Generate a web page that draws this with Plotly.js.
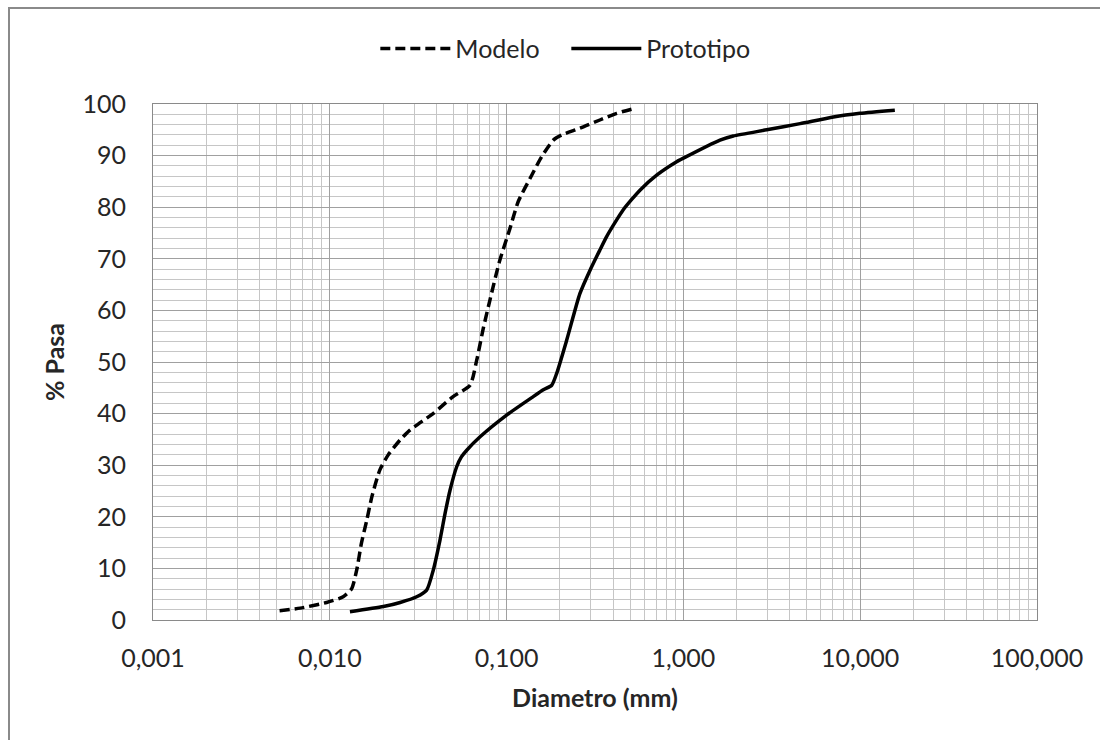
<!DOCTYPE html>
<html>
<head>
<meta charset="utf-8">
<script src="https://cdn.plot.ly/plotly-3.0.1.min.js"></script>
<style>
  html, body { margin: 0; padding: 0; background: #fff; overflow: hidden; }
  #wrap { position: relative; width: 1100px; height: 740px; }
  #chart { width: 1100px; height: 740px; }
  #frame { position: absolute; left: 8px; top: 7px; width: 1100px; height: 760px;
           border: 2px solid #8a8a8a; pointer-events: none; box-sizing: border-box; }
</style>
</head>
<body>
<div id="wrap">
  <div id="chart"></div>
  <div id="frame"></div>
</div>
<script>
// Data
const modeloX = [0.0052, 0.0068, 0.0096, 0.0119, 0.0133, 0.0142, 0.0151, 0.0162, 0.0173, 0.0192,
                 0.0214, 0.0250, 0.0284, 0.0384, 0.0498, 0.0621, 0.0678, 0.0738, 0.0805, 0.0910,
                 0.1045, 0.1164, 0.1387, 0.1580, 0.1838, 0.2050, 0.2600, 0.3370, 0.4200, 0.5100];
const modeloY = [1.8, 2.3, 3.4, 4.5, 6.1, 9.7, 14.9, 19.4, 23.9, 29.1,
                 32.0, 34.9, 36.8, 40.0, 43.3, 45.5, 50.4, 56.5, 62.0, 69.4,
                 75.9, 81.1, 86.2, 89.8, 93.0, 94.0, 95.3, 96.9, 98.2, 99.0];

const protoX = [0.0130, 0.0201, 0.0250, 0.0310, 0.0353, 0.0385, 0.0420, 0.0449, 0.0479, 0.0522,
                0.0555, 0.0595, 0.0708, 0.1000, 0.1416, 0.1613, 0.1800, 0.1920, 0.2190, 0.2600,
                0.2965, 0.3370, 0.3680, 0.4100, 0.4570, 0.5100, 0.5680, 0.7060, 0.9160, 1.0000,
                1.6100, 1.9150, 2.9600, 4.5700, 7.0500, 9.9700, 15.700];
const protoY = [1.6, 2.6, 3.4, 4.5, 5.8, 9.7, 15.5, 20.7, 25.2, 29.7,
                31.6, 32.9, 35.5, 39.7, 43.3, 44.6, 45.5, 47.8, 54.3, 63.3,
                67.8, 71.7, 74.3, 77.0, 79.5, 81.5, 83.3, 86.2, 88.8, 89.5,
                93.0, 93.8, 95.0, 96.2, 97.5, 98.2, 98.8];

const xTickVals = [0.001, 0.01, 0.1, 1, 10, 100];
const xTickText = ['0,001', '0,010', '0,100', '1,000', '10,000', '100,000'];
const seriesNames = ['Modelo', 'Prototipo'];

// minor gridline positions of the log axis (2..9 in each decade)
const xMinorVals = [];
for (let d = -3; d < 2; d++) {
  for (let k = 2; k <= 9; k++) xMinorVals.push(k * Math.pow(10, d));
}

const FONT = 'Lato, "Open Sans", sans-serif';
const TXT = '#262626';

const traces = [
  { x: modeloX, y: modeloY, name: seriesNames[0], type: 'scatter', mode: 'lines',
    line: { color: '#000', width: 3.5, dash: '10px,5px', shape: 'spline', smoothing: 0.6 } },
  { x: protoX, y: protoY, name: seriesNames[1], type: 'scatter', mode: 'lines',
    line: { color: '#000', width: 3.5, shape: 'spline', smoothing: 0.6 } }
];

const layout = {
  width: 1100, height: 740,
  margin: { l: 153, r: 63, t: 104, b: 120 },
  paper_bgcolor: '#fff', plot_bgcolor: '#fff',
  font: { family: FONT, size: 25, color: TXT },
  showlegend: true,
  legend: {
    orientation: 'h', x: 0.2515, xanchor: 'left', y: 1.107, yanchor: 'middle',
    font: { family: FONT, size: 25, color: TXT }, itemwidth: 70,
    entrywidth: 106, entrywidthmode: 'pixels',
    bgcolor: 'rgba(0,0,0,0)', tracegroupgap: 0
  },
  xaxis: {
    type: 'log', range: [-3, 2],
    tickmode: 'array', tickvals: xTickVals, ticktext: xTickText,
    showgrid: true, gridcolor: '#a0a0a0', gridwidth: 1,
    minor: { tickmode: 'array', tickvals: xMinorVals, showgrid: true, gridcolor: '#c6c6c6', gridwidth: 1, ticks: '' },
    showline: true, linecolor: '#8a8a8a', linewidth: 1, mirror: true,
    ticks: '', ticklabelstandoff: 16, zeroline: false,
    tickfont: { family: FONT, size: 25, color: TXT },
    title: { text: '<b>Diametro (mm)</b>', font: { family: FONT, size: 25, color: TXT }, standoff: 18 }
  },
  yaxis: {
    range: [0, 100], tickmode: 'linear', tick0: 0, dtick: 10,
    showgrid: true, gridcolor: '#a0a0a0', gridwidth: 1,
    minor: { dtick: 2, showgrid: true, gridcolor: '#c6c6c6', gridwidth: 1, ticks: '' },
    showline: true, linecolor: '#8a8a8a', linewidth: 1, mirror: true,
    ticks: '', ticklabelstandoff: 21, zeroline: false,
    tickfont: { family: FONT, size: 25, color: TXT },
    title: { text: '<b>% Pasa</b>', font: { family: FONT, size: 25, color: TXT }, standoff: 10 }
  }
};

Plotly.newPlot('chart', traces, layout, { staticPlot: true, displayModeBar: false });
</script>
</body>
</html>
